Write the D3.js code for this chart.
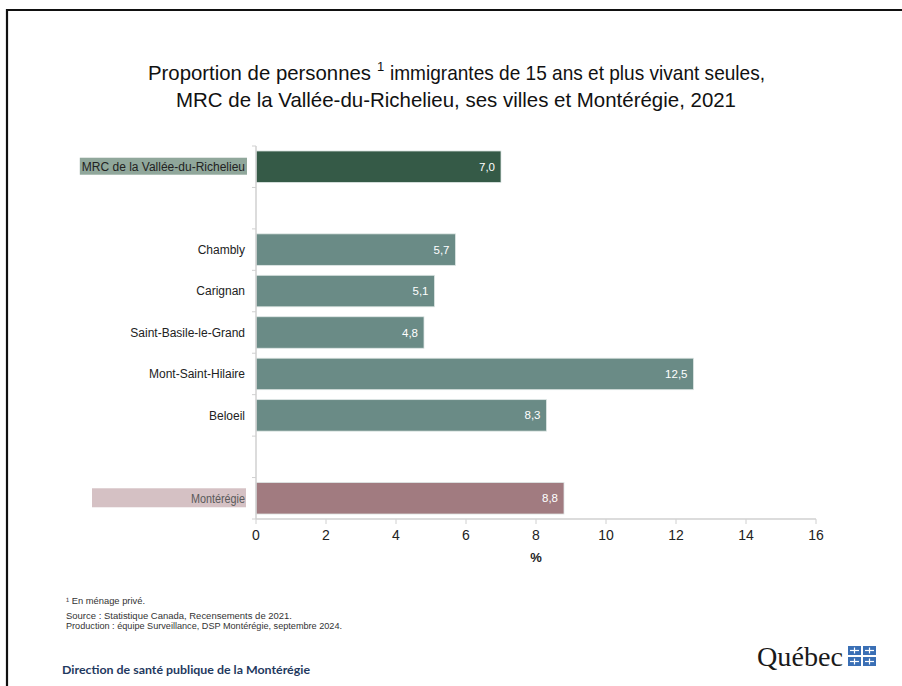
<!DOCTYPE html>
<html><head><meta charset="utf-8">
<script src="https://cdn.jsdelivr.net/npm/d3@7"></script>
<style>
html,body{margin:0;padding:0;background:#fff;}
svg{display:block;}
</style></head>
<body>
<svg id="chart" width="902" height="686"></svg>
<script>
const categories = ["MRC de la Vallée-du-Richelieu", "gap1", "Chambly", "Carignan", "Saint-Basile-le-Grand", "Mont-Saint-Hilaire", "Beloeil", "gap2", "Montérégie"];
const values = [7.0, null, 5.7, 5.1, 4.8, 12.5, 8.3, null, 8.8];
const groups = ["mrc", null, "ville", "ville", "ville", "ville", "ville", null, "region"];
const xTicks = [0, 2, 4, 6, 8, 10, 12, 14, 16];
const titleParts = ["Proportion de personnes", "1", "immigrantes de 15 ans et plus vivant seules,"];
const titleLine2 = "MRC de la Vallée-du-Richelieu, ses villes et Montérégie, 2021";
const notes = ["¹ En ménage privé.", "Source : Statistique Canada, Recensements de 2021.", "Production : équipe Surveillance, DSP Montérégie, septembre 2024."];

const colors = {mrc: "#355a47", ville: "#6a8b86", region: "#a17b80"};
const labelBg = {mrc: "#90a79b", region: "#d5c1c4"};

const svg = d3.select("#chart");
svg.append("rect").attr("width", 902).attr("height", 686).attr("fill", "#fff");

// frame (left + top)
svg.append("path").attr("d", "M7,686 V10 H902").attr("fill", "none").attr("stroke", "#111").attr("stroke-width", 2.2);

// title
const tf = "Arial, 'Liberation Sans', sans-serif";
svg.append("text").attr("x", 148).attr("y", 80).attr("font-family", tf).attr("font-size", 21).attr("fill", "#111")
  .attr("textLength", 223).attr("lengthAdjust", "spacingAndGlyphs").text(titleParts[0]);
svg.append("text").attr("x", 377).attr("y", 71).attr("font-family", tf).attr("font-size", 13).attr("fill", "#111")
  .text(titleParts[1]);
svg.append("text").attr("x", 390).attr("y", 80).attr("font-family", tf).attr("font-size", 21).attr("fill", "#111")
  .attr("textLength", 375).attr("lengthAdjust", "spacingAndGlyphs").text(titleParts[2]);
svg.append("text").attr("x", 176).attr("y", 107)
  .attr("font-family", tf).attr("font-size", 21).attr("fill", "#111")
  .attr("textLength", 560).attr("lengthAdjust", "spacingAndGlyphs")
  .text(titleLine2);

const x = d3.scaleLinear().domain([0, 16]).range([256, 816]);
const y = d3.scaleBand().domain(categories).range([146, 519]).paddingInner(0.24).paddingOuter(0.12);

// bars
const data = categories.map((c, i) => ({c, v: values[i], g: groups[i]})).filter(d => d.v !== null);
svg.append("g").selectAll("rect").data(data).join("rect")
  .attr("x", x(0)).attr("y", d => y(d.c)).attr("width", d => x(d.v) - x(0)).attr("height", y.bandwidth())
  .attr("fill", d => colors[d.g]).attr("stroke", "#dfe7e5").attr("stroke-width", 0.8);

const fmt = v => d3.format(".1f")(v).replace(".", ",");
svg.append("g").selectAll("text").data(data).join("text")
  .attr("x", d => x(d.v) - 6).attr("y", d => y(d.c) + y.bandwidth() / 2 + 4)
  .attr("text-anchor", "end").attr("fill", "#fff").attr("font-family", "'Liberation Sans', Arial, sans-serif")
  .attr("font-size", 11.5).text(d => fmt(d.v));

// y axis
const yAxis = svg.append("g").attr("transform", `translate(${x(0)},0)`);
yAxis.append("line").attr("y1", 146).attr("y2", 519).attr("stroke", "#d0d0d0").attr("stroke-width", 1.5);
d3.range(categories.length + 1).forEach(i => {
  const yy = 146 + i * (373 / categories.length);
  yAxis.append("line").attr("x1", -4).attr("x2", 0).attr("y1", yy).attr("y2", yy).attr("stroke", "#d0d0d0");
});

// category labels
const labels = categories.map((c, i) => ({c, g: groups[i]})).filter(d => d.g !== null);
labels.forEach(d => {
  const cy = y(d.c) + y.bandwidth() / 2;
  const isRegion = d.g === "region";
  const txt = svg.append("text").attr("x", 245).attr("y", cy + 4.3).attr("text-anchor", "end")
    .attr("font-family", "'Liberation Sans', Arial, sans-serif")
    .attr("font-size", 12).attr("fill", isRegion ? "#5a5a5a" : "#222").text(d.c);
  if (isRegion) txt.attr("textLength", 54).attr("lengthAdjust", "spacingAndGlyphs");
  if (labelBg[d.g]) {
    const w = txt.node().getComputedTextLength();
    const left = isRegion ? 92 : 245 - w - 2;
    const h = isRegion ? 19 : 17;
    svg.insert("rect", "text").attr("x", left).attr("y", cy - h / 2 - 0.5).attr("width", (isRegion ? 246 : 247) - left)
      .attr("height", h).attr("fill", labelBg[d.g]);
  }
});

// x axis
const xAxis = svg.append("g").attr("transform", "translate(0,519)");
xAxis.append("line").attr("x1", x(0)).attr("x2", x(16)).attr("stroke", "#d0d0d0").attr("stroke-width", 1.5);
xAxis.selectAll("line.tk").data(xTicks).join("line").attr("class", "tk")
  .attr("x1", d => x(d)).attr("x2", d => x(d)).attr("y1", 0).attr("y2", 5).attr("stroke", "#d0d0d0");
xAxis.selectAll("text").data(xTicks).join("text")
  .attr("x", d => x(d)).attr("y", 21).attr("text-anchor", "middle")
  .attr("font-family", "'Liberation Sans', Arial, sans-serif").attr("font-size", 14).attr("fill", "#222")
  .text(d => d);
svg.append("text").attr("x", x(8)).attr("y", 562).attr("text-anchor", "middle")
  .attr("font-family", "'Liberation Sans', Arial, sans-serif").attr("font-size", 13).attr("font-weight", "bold")
  .attr("fill", "#222").text("%");

// notes
const nf = "'Liberation Sans', Arial, sans-serif";
[[notes[0], 604, 79], [notes[1], 619, 226], [notes[2], 629, 276]].forEach(([s, yy, w]) => {
  svg.append("text").attr("x", 66).attr("y", yy).attr("font-family", nf)
    .attr("font-size", 9.2).attr("fill", "#333").attr("textLength", w).attr("lengthAdjust", "spacingAndGlyphs").text(s);
});

svg.append("text").attr("x", 62).attr("y", 674).attr("font-family", "Lato, 'Open Sans', sans-serif")
  .attr("font-size", 11).attr("font-weight", "bold").attr("fill", "#1f3a60")
  .attr("textLength", 248).attr("lengthAdjust", "spacingAndGlyphs")
  .text("Direction de santé publique de la Montérégie");

// Québec signature
svg.append("text").attr("x", 757).attr("y", 666).attr("font-family", "'Liberation Serif', serif")
  .attr("font-size", 27).attr("fill", "#1a1a1a").attr("textLength", 86).attr("lengthAdjust", "spacingAndGlyphs").text("Québec");
const flag = svg.append("g").attr("transform", "translate(848,646)");
[[0,0],[15,0],[0,11],[15,11]].forEach(([dx, dy]) => {
  flag.append("rect").attr("x", dx).attr("y", dy).attr("width", 13).attr("height", 9).attr("fill", "#3a6fb5");
  flag.append("line").attr("x1", dx + 6.5).attr("x2", dx + 6.5).attr("y1", dy + 1.5).attr("y2", dy + 7.5).attr("stroke", "#fff").attr("stroke-width", 1.2);
  flag.append("line").attr("x1", dx + 2).attr("x2", dx + 11).attr("y1", dy + 4.5).attr("y2", dy + 4.5).attr("stroke", "#fff").attr("stroke-width", 1.2);
});
</script>
</body></html>
